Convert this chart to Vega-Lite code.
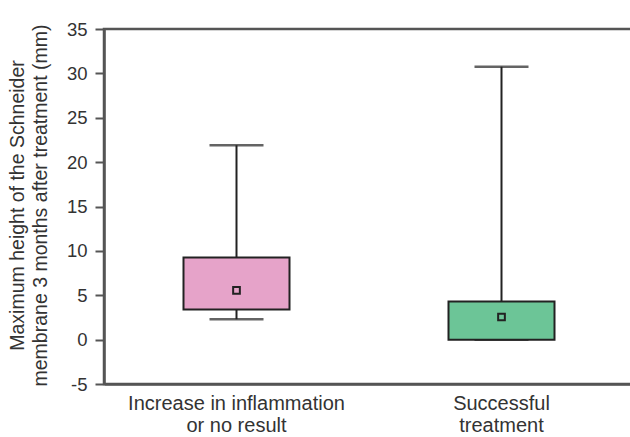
{
  "$schema": "https://vega.github.io/schema/vega-lite/v6.json",
  "width": 530,
  "height": 355,
  "autosize": {"type": "none"},
  "padding": {"left": 104, "top": 29, "right": 0, "bottom": 53},
  "background": "white",
  "config": {
    "view": {"stroke": "#555555", "strokeWidth": 2.5},
    "font": "Liberation Sans",
    "axis": {"grid": false, "labelFont": "Liberation Sans", "titleFont": "Liberation Sans", "labelFontSize": 20, "titleFontSize": 19.5, "titleFontWeight": "normal", "labelColor": "#333333", "titleColor": "#333333", "domainColor": "#555555", "domainWidth": 2.5, "tickColor": "#555555", "tickWidth": 2, "labelLimit": 400},
    "axisY": {"labelFontSize": 18.5, "tickSize": 9, "labelPadding": 8, "titleLineHeight": 23, "titleAngle": -90, "titleX": -96, "titleY": 176, "titleBaseline": "top", "titleAlign": "center"},
    "axisX": {"labelAngle": 0, "ticks": false, "labelPadding": 9, "labelLineHeight": 22, "labelBaseline": "top"}
  },
  "data": {
    "values": [
      {"group": "Increase in inflammation|or no result", "min": 2.3, "q1": 3.4, "q3": 9.25, "max": 21.9, "mean": 5.55},
      {"group": "Successful|treatment", "min": 0, "q1": 0, "q3": 4.3, "max": 30.75, "mean": 2.55}
    ]
  },
  "encoding": {
    "x": {
      "field": "group", "type": "nominal", "sort": null,
      "scale": {"paddingInner": 0, "paddingOuter": 0},
      "axis": {"title": null, "labelExpr": "split(datum.label, '|')"}
    }
  },
  "layer": [
    {
      "mark": {"type": "rule", "color": "#222222", "strokeWidth": 2},
      "encoding": {
        "y": {"field": "min", "type": "quantitative", "scale": {"domain": [-5, 35], "nice": false, "zero": false},
          "axis": {"values": [-5, 0, 5, 10, 15, 20, 25, 30, 35], "labelExpr": "replace(datum.label, '\u2212', '-')",
            "title": ["Maximum height of the Schneider", "membrane 3 months after treatment (mm)"]}},
        "y2": {"field": "max"}
      }
    },
    {
      "mark": {"type": "tick", "color": "#222222", "thickness": 2.5, "size": 54},
      "encoding": {"y": {"field": "max", "type": "quantitative"}}
    },
    {
      "mark": {"type": "tick", "color": "#222222", "thickness": 2.5, "size": 54},
      "encoding": {"y": {"field": "min", "type": "quantitative"}}
    },
    {
      "mark": {"type": "bar", "size": 106, "stroke": "#222222", "strokeWidth": 2, "opacity": 1},
      "encoding": {
        "y": {"field": "q1", "type": "quantitative"},
        "y2": {"field": "q3"},
        "color": {"field": "group", "type": "nominal", "scale": {"range": ["#e6a3c9", "#6cc597"]}, "legend": null}
      }
    },
    {
      "mark": {"type": "point", "shape": "square", "filled": true, "size": 45, "stroke": "#222222", "strokeWidth": 2, "opacity": 1},
      "encoding": {
        "y": {"field": "mean", "type": "quantitative"},
        "fill": {"field": "group", "type": "nominal", "scale": {"range": ["#e6a3c9", "#6cc597"]}, "legend": null}
      }
    }
  ]
}
